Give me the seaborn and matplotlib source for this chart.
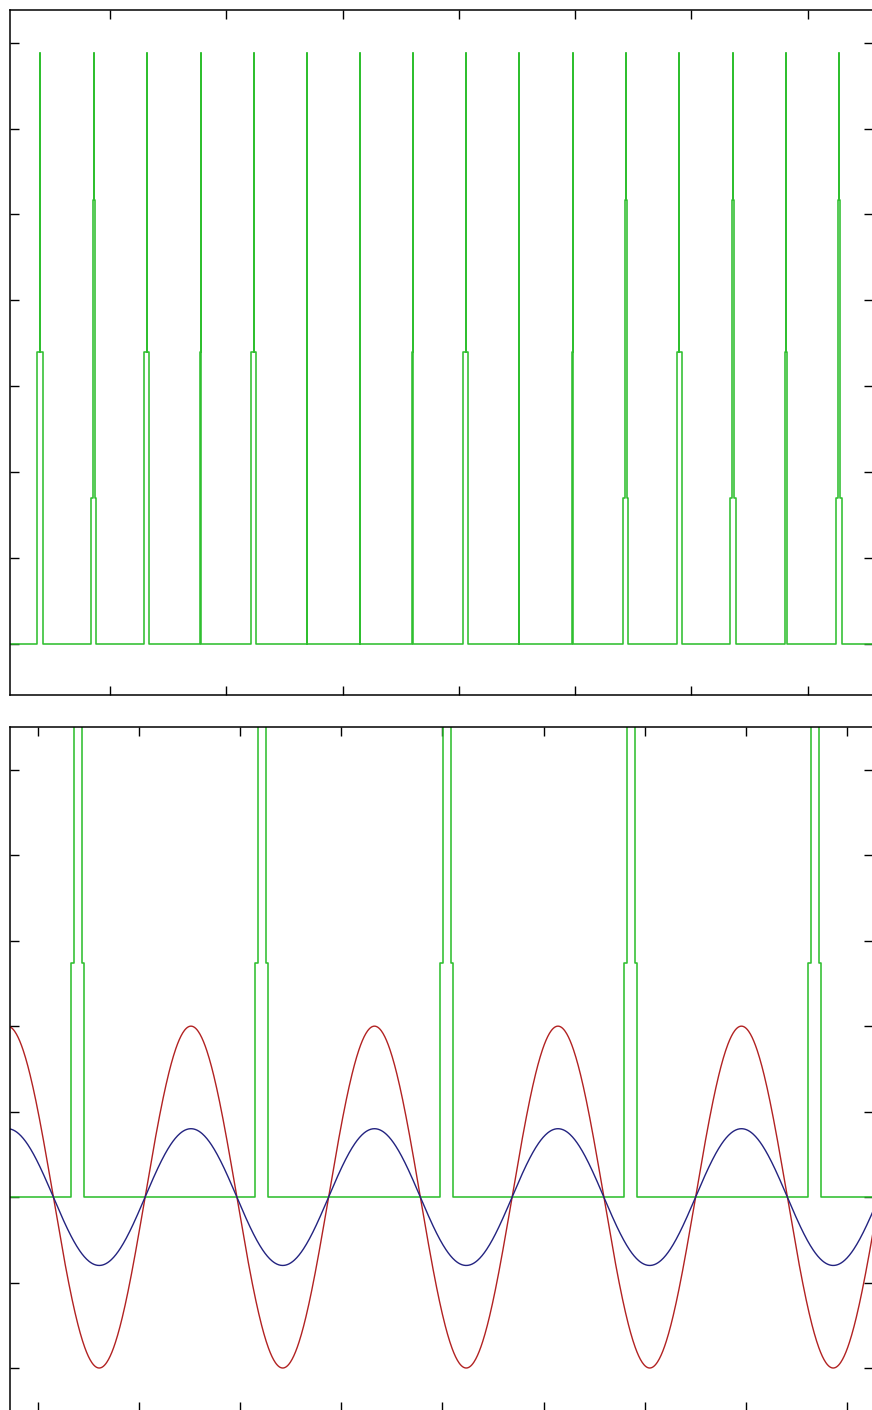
import numpy as np
import pandas as pd
import matplotlib
matplotlib.use("Agg")
import matplotlib.pyplot as plt
import seaborn as sns

# ---------------- top panel: spike train ----------------
spike_times = [39.8, 86.2, 131.8, 178.2, 223.8, 269.4, 315.0, 360.5,
               406.1, 451.7, 498.1, 543.7, 589.3, 635.7, 681.3, 726.8]
# lower shoulder of each spike (level, full width)
spike_low_level = [34.0, 17.0, 34.0, 34.0, 34.0, 34.0, 34.0, 34.0,
                   34.0, 34.0, 34.0, 17.0, 34.0, 17.0, 34.0, 17.0]
spike_low_width = [5.2, 4.3, 4.3, 0.8, 4.3, 0.8, 0.0, 0.8,
                   4.3, 0.8, 0.9, 4.3, 4.3, 5.2, 0.9, 5.2]
# upper shoulder (level, full width)
spike_high_level = [34.0, 51.7, 34.0, 34.0, 34.0, 34.0, 34.0, 34.0,
                    34.0, 34.0, 34.0, 51.7, 34.0, 51.7, 34.0, 51.7]
spike_high_width = [0.0, 2.0, 0.0, 0.8, 0.0, 0.8, 0.0, 0.8,
                    0.0, 0.8, 0.0, 1.7, 0.0, 1.7, 0.0, 1.7]
spike_peak = 68.8
top_xlim = (14.0, 756.1)
top_ylim = (-5.94, 73.8)
top_xticks = [100, 200, 300, 400, 500, 600, 700]
top_yticks = [0, 10, 20, 30, 40, 50, 60, 70]

# ---------------- bottom panel: pulses and sinusoids ----------------
pulse_starts = [32.6, 214.6, 397.6, 579.6, 761.6]
pulse_width = 12.9
pulse_inset_left = 3.0
pulse_inset_right = 2.0
pulse_step = 2.74
pulse_top = 8.0
red_amp = 2.0
blue_amp = 0.8
wave_period = 181.5
wave_peak_x = 151.3
bot_xlim = (-27.7, 825.9)
bot_ylim = (-2.5, 5.5)
bot_xticks = [0, 100, 200, 300, 400, 500, 600, 700, 800]
bot_yticks = [-2, -1, 0, 1, 2, 3, 4, 5]

GREEN = "#2fbf2f"
RED = "#b22222"
BLUE = "#232380"


def spike_trace():
    xs, ys = [top_xlim[0]], [0.0]
    for c, hl, wl, hh, wh in zip(spike_times, spike_low_level, spike_low_width,
                                 spike_high_level, spike_high_width):
        pts = [(c - wl / 2, 0), (c - wl / 2, hl), (c - wh / 2, hl),
               (c - wh / 2, hh), (c, hh), (c, spike_peak), (c, hh),
               (c + wh / 2, hh), (c + wh / 2, hl), (c + wl / 2, hl),
               (c + wl / 2, 0)]
        for px, py in pts:
            xs.append(px)
            ys.append(py)
    xs.append(top_xlim[1])
    ys.append(0.0)
    return pd.DataFrame({"t": xs, "v": ys})


def pulse_trace():
    xs, ys = [bot_xlim[0]], [0.0]
    for s in pulse_starts:
        e = s + pulse_width
        pts = [(s, 0), (s, pulse_step), (s + pulse_inset_left, pulse_step),
               (s + pulse_inset_left, pulse_top), (e - pulse_inset_right, pulse_top),
               (e - pulse_inset_right, pulse_step), (e, pulse_step), (e, 0)]
        for px, py in pts:
            xs.append(px)
            ys.append(py)
    xs.append(bot_xlim[1])
    ys.append(0.0)
    return pd.DataFrame({"t": xs, "v": ys})


sns.set_style("white")

W, H = 872, 1410
fig = plt.figure(figsize=(W / 100, H / 100), dpi=100)
ax1 = fig.add_axes([10 / W, (H - 695) / H, 863 / W, 685 / H])
ax2 = fig.add_axes([10 / W, (H - 1410.75) / H, 863 / W, (1410.75 - 727) / H])

spikes = spike_trace()
sns.lineplot(data=spikes, x="t", y="v", ax=ax1, sort=False, estimator=None,
             color=GREEN, linewidth=1.15)

pulses = pulse_trace()
sns.lineplot(data=pulses, x="t", y="v", ax=ax2, sort=False, estimator=None,
             color=GREEN, linewidth=1.15)

t = np.linspace(bot_xlim[0], bot_xlim[1], 1500)
phase = np.cos(2 * np.pi * (t - wave_peak_x) / wave_period)
waves = pd.DataFrame({"t": t, "red": red_amp * phase, "blue": blue_amp * phase})
sns.lineplot(data=waves, x="t", y="red", ax=ax2, color=RED, linewidth=1.0)
sns.lineplot(data=waves, x="t", y="blue", ax=ax2, color=BLUE, linewidth=1.0)

for ax, xl, yl, xt, yt in [(ax1, top_xlim, top_ylim, top_xticks, top_yticks),
                           (ax2, bot_xlim, bot_ylim, bot_xticks, bot_yticks)]:
    ax.set_xlim(*xl)
    ax.set_ylim(*yl)
    ax.set_xticks(xt)
    ax.set_yticks(yt)
    ax.set_xlabel("")
    ax.set_ylabel("")
    ax.tick_params(direction="in", length=6.5, width=1.0, color="black",
                   top=True, right=True, bottom=True, left=True,
                   labelbottom=False, labelleft=False,
                   labeltop=False, labelright=False)
    for sp in ax.spines.values():
        sp.set_visible(True)
        sp.set_color("black")
        sp.set_linewidth(1.1)
    ax.set_facecolor("white")

fig.savefig("out.png", dpi=100, facecolor="white")
